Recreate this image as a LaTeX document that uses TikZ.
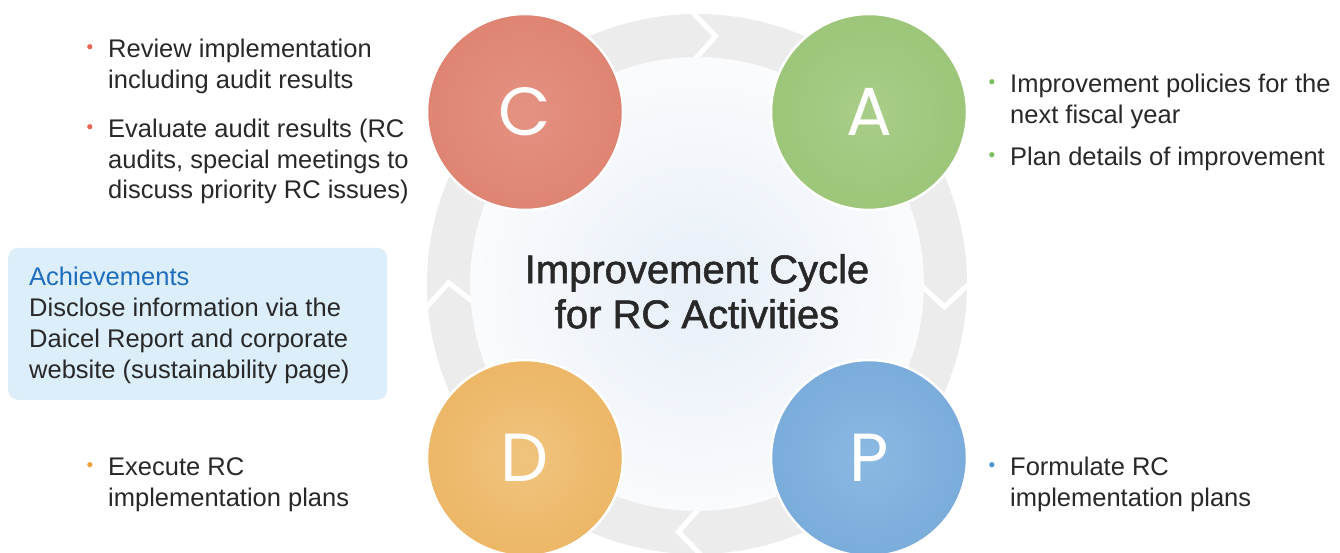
\documentclass[tikz,border=0pt]{standalone}
\usepackage{fontspec}
\setmainfont{Liberation Sans}
\newfontfamily\letterfont{Poppins}
\usetikzlibrary{positioning}
\definecolor{txt}{RGB}{40,40,40}
\definecolor{ring}{RGB}{236,236,236}
\definecolor{achfill}{RGB}{219,238,250}
\definecolor{achblue}{RGB}{30,108,190}
\definecolor{cIn}{RGB}{228,146,130}\definecolor{cOut}{RGB}{218,118,98}
\definecolor{aIn}{RGB}{168,205,136}\definecolor{aOut}{RGB}{145,191,107}
\definecolor{dIn}{RGB}{240,196,126}\definecolor{dOut}{RGB}{231,169,78}
\definecolor{pIn}{RGB}{138,185,226}\definecolor{pOut}{RGB}{107,159,211}
\definecolor{cDot}{RGB}{232,100,80}
\definecolor{aDot}{RGB}{120,190,90}
\definecolor{dDot}{RGB}{240,160,60}
\definecolor{pDot}{RGB}{70,150,215}
\definecolor{glowIn}{RGB}{232,239,248}
\pgfdeclareradialshading{shC}{\pgfpoint{0bp}{0bp}}{color(0bp)=(cIn); color(50bp)=(cOut)}
\pgfdeclareradialshading{shA}{\pgfpoint{0bp}{0bp}}{color(0bp)=(aIn); color(50bp)=(aOut)}
\pgfdeclareradialshading{shD}{\pgfpoint{0bp}{0bp}}{color(0bp)=(dIn); color(50bp)=(dOut)}
\pgfdeclareradialshading{shP}{\pgfpoint{0bp}{0bp}}{color(0bp)=(pIn); color(50bp)=(pOut)}
\begin{document}
\begin{tikzpicture}[x=1pt,y=1pt,
  ball/.style={circle, minimum size=196pt, inner sep=0pt, draw=white, line width=2.5pt,
    shade, shading=#1, text=white, font=\letterfont\fontsize{68}{68}\selectfont},
  item/.style={anchor=north west, align=left, inner sep=0pt, text=txt,
    font=\fontsize{25.5}{30.5}\selectfont},
  dot/.style={inner sep=0pt, font=\fontsize{19}{19}\selectfont},
  achbox/.style={fill=achfill, rounded corners=10pt, inner sep=0pt}]
  \useasboundingbox (0,0) rectangle (1340,553);
  \fill[white] (0,0) rectangle (1340,553);
  \coordinate (O) at (697,269);
  \shade[inner color=glowIn, outer color=white] (697,262) circle (300);
  \fill[white, even odd rule] (O) circle (400) (O) circle (270);
  \fill[ring, even odd rule] (O) circle (270) (O) circle (227);
  \begin{scope}[even odd rule]
    \clip (O) circle (270.5) (O) circle (226.5);
    \foreach \a in {88,357,268,182}
      \draw[white, line width=5pt, shift={(O)}] (\a+4.9:282) -- (\a-2.3:248.5) -- (\a+4.9:215);
  \end{scope}

  \node[ball=shC] (C) at (525,441) {C};
  \node[ball=shA] (A) at (869,441) {A};
  \node[ball=shD] (D) at (525,95) {D};
  \node[ball=shP] (P) at (869,95) {P};

  \node[anchor=north, align=center, inner sep=0pt, text=txt,
    font=\addfontfeature{FakeBold=1.4}\fontsize{40}{45}\selectfont]
    (title) at (697,301.5) {\strut Improvement Cycle\\for RC Activities};

  \foreach \nm/\x/\y/\clr/\txt in {
      c1/108/517/cDot/{Review implementation\\including audit results},
      c2/108/437/cDot/{Evaluate audit results (RC\\audits, special meetings to\\discuss priority RC issues)},
      a1/1010/482/aDot/{Improvement policies for the\\next fiscal year},
      a2/1010/409/aDot/{Plan details of improvement},
      d1/108/99/dDot/{Execute RC\\implementation plans},
      p1/1010/99/pDot/{Formulate RC\\implementation plans}} {
    \node[item] (\nm) at (\x,\y) {\strut\txt};
    \node[dot, text=\clr] (\nm dot) at ([xshift=-18pt, yshift=-13pt]\nm.north west) {•};
  }

  \node[achbox, anchor=south west, minimum width=379pt, minimum height=152pt] (ach) at (8,153) {};
  \node[item, font=\fontsize{25.5}{31}\selectfont] (achtext) at (29,289.7)
    {\strut\textcolor{achblue}{Achievements}\\Disclose information via the\\Daicel Report and corporate\\website (sustainability page)};
\end{tikzpicture}
\end{document}
